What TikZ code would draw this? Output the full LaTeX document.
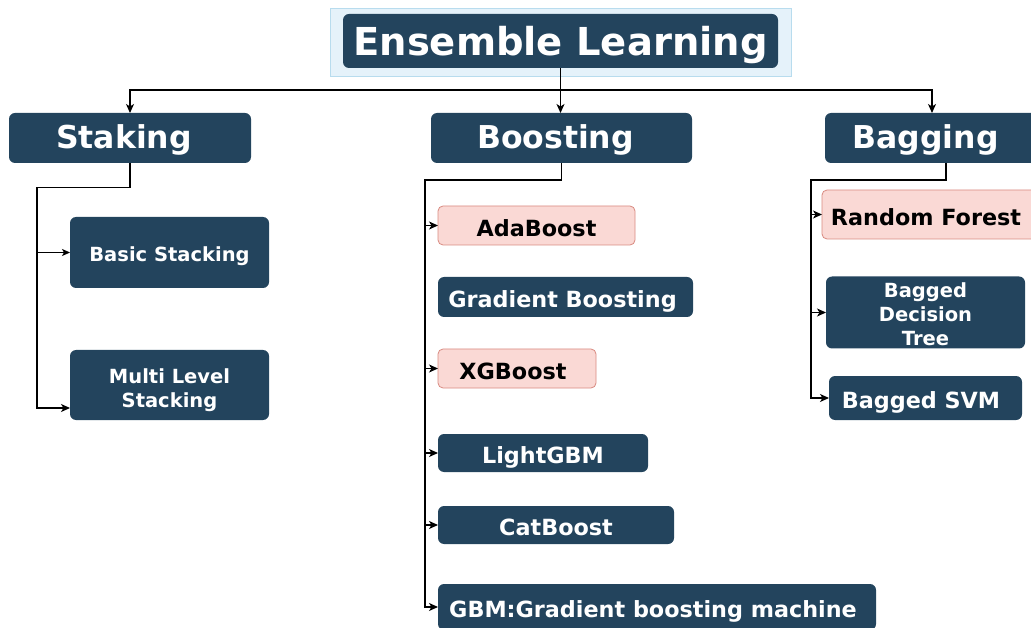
\documentclass[tikz,border=0pt]{standalone}
\usepackage{fontspec}
\setmainfont{DejaVu Sans}
\usetikzlibrary{arrows.meta}
\definecolor{dk}{HTML}{23445D}
\definecolor{pk}{HTML}{FAD9D5}
\definecolor{pkb}{HTML}{D88A80}
\definecolor{lbf}{HTML}{E5F2FA}
\definecolor{lbd}{HTML}{B8DCEE}
\newcommand{\mlines}[2]{\raisebox{#1}[\height][\depth]{\begin{tabular}{@{}c@{}}#2\end{tabular}}}
\tikzset{
  box/.style={inner sep=0pt, outer sep=0pt, font=\bfseries, align=center},
  dark/.style={box, fill=dk, rounded corners=6pt, text=white},
  pink/.style={box, fill=pk, draw=pkb, line width=0.8pt, rounded corners=5pt, text=black},
  conn/.style={line width=1.2pt, draw=black},
  arr/.style={conn, -{Stealth[length=9pt,width=8pt,inset=2.5pt]}},
  thinarr/.style={line width=0.8pt, draw=black, -{Stealth[length=8pt,width=7pt,inset=2pt]}},
  fA/.style={font=\bfseries\fontsize{38.5}{44}\selectfont, text height=29pt, text depth=0pt},
  fB/.style={font=\bfseries\fontsize{31.5}{36}\selectfont, text height=22pt, text depth=0pt},
  fC/.style={font=\bfseries\fontsize{22.3}{26}\selectfont, text height=21.2pt, text depth=0pt},
  fD/.style={font=\bfseries\fontsize{19.5}{24}\selectfont, text height=18.6pt, text depth=0pt},
  fM/.style={font=\bfseries\fontsize{19.5}{24}\selectfont},
}
\begin{document}
\begin{tikzpicture}[x=1pt,y=-1pt]
\useasboundingbox (0,0) rectangle (1031,628);
\clip (0,0) rectangle (1031,628);
% title
\node[fill=lbf, draw=lbd, line width=0.8pt, minimum width=461pt, minimum height=68pt, inner sep=0pt] (titlebg) at (560.5,42) {};
\node[dark, fA, minimum width=435pt, minimum height=54pt] (title) at (560.5,41) {Ensemble Learning};
% level 1
\node[dark, fB, minimum width=242pt, minimum height=50pt] (stak) at (130,138) {Staking\hspace{12pt}};
\node[dark, fB, minimum width=261pt, minimum height=50pt] (boost) at (561.5,138) {Boosting\hspace{12pt}};
\node[dark, fB, minimum width=214pt, minimum height=50pt] (bag) at (932,138) {Bagging\hspace{13pt}};
% stacking
\node[dark, fD, minimum width=199pt, minimum height=71pt] (bst) at (169.5,252.5) {Basic Stacking};
\node[dark, fM, minimum width=199pt, minimum height=70pt] (mls) at (169.5,385) {\mlines{-5.5pt}{Multi Level\\ Stacking}};
% boosting
\node[pink, fC, minimum width=197pt, minimum height=39pt] (ada) at (536.5,225.5) {AdaBoost};
\node[dark, fC, minimum width=255pt, minimum height=40pt] (gb) at (565.5,297) {Gradient Boosting\hspace{6pt}};
\node[pink, fC, minimum width=158pt, minimum height=39pt] (xgb) at (517,368.5) {XGBoost\hspace{8pt}};
\node[dark, fC, minimum width=210pt, minimum height=38pt] (lgbm) at (543,453) {LightGBM};
\node[dark, fC, minimum width=236pt, minimum height=38pt] (cat) at (556,525) {CatBoost};
\node[dark, fC, minimum width=438pt, minimum height=46pt] (gbm) at (657,607) {GBM:Gradient boosting machine\hspace{8pt}};
% bagging
\node[pink, fC, minimum width=214pt, minimum height=49pt] (rf) at (929,214.5) {Random Forest\hspace{6pt}};
\node[dark, fM, minimum width=199pt, minimum height=71pt] (bdt) at (925.5,312.5) {\mlines{-4.5pt}{Bagged\\ Decision\\ Tree}};
\node[dark, fC, minimum width=193pt, minimum height=44pt] (svm) at (925.5,398) {Bagged SVM\hspace{9pt}};
% connectors from title
\coordinate (j0) at (560.5,90);
\draw[arr] (title.south) -- (title.south |- boost.north);
\draw[arr] (j0) -| (stak.north);
\draw[arr] (j0) -| (bag.north);
% stacking connectors
\coordinate (s1) at (37,187.5);
\coordinate (s2) at (37,408);
\draw[arr] (stak.south) -- (stak.south |- s1) -- (s1) -- (s2) -- (s2 -| mls.west);
\draw[thinarr] (s1 |- bst.west) -- (bst.west);
% boosting connectors
\coordinate (b1) at (425,180);
\draw[arr] (boost.south) -- (boost.south |- b1) -- (b1) |- (gbm.west);
\draw[arr] (b1 |- ada.west) -- (ada.west);
\draw[arr] (b1 |- xgb.west) -- (xgb.west);
\draw[arr] (b1 |- lgbm.west) -- (lgbm.west);
\draw[arr] (b1 |- cat.west) -- (cat.west);
% bagging connectors
\coordinate (g0) at (946,163);
\coordinate (g1) at (811,180);
\draw[arr] (g0) -- (g0 |- g1) -- (g1) |- (svm.west);
\draw[arr] (g1 |- rf.west) -- (rf.west);
\draw[arr] (g1 |- bdt.west) -- (bdt.west);
\end{tikzpicture}
\end{document}
